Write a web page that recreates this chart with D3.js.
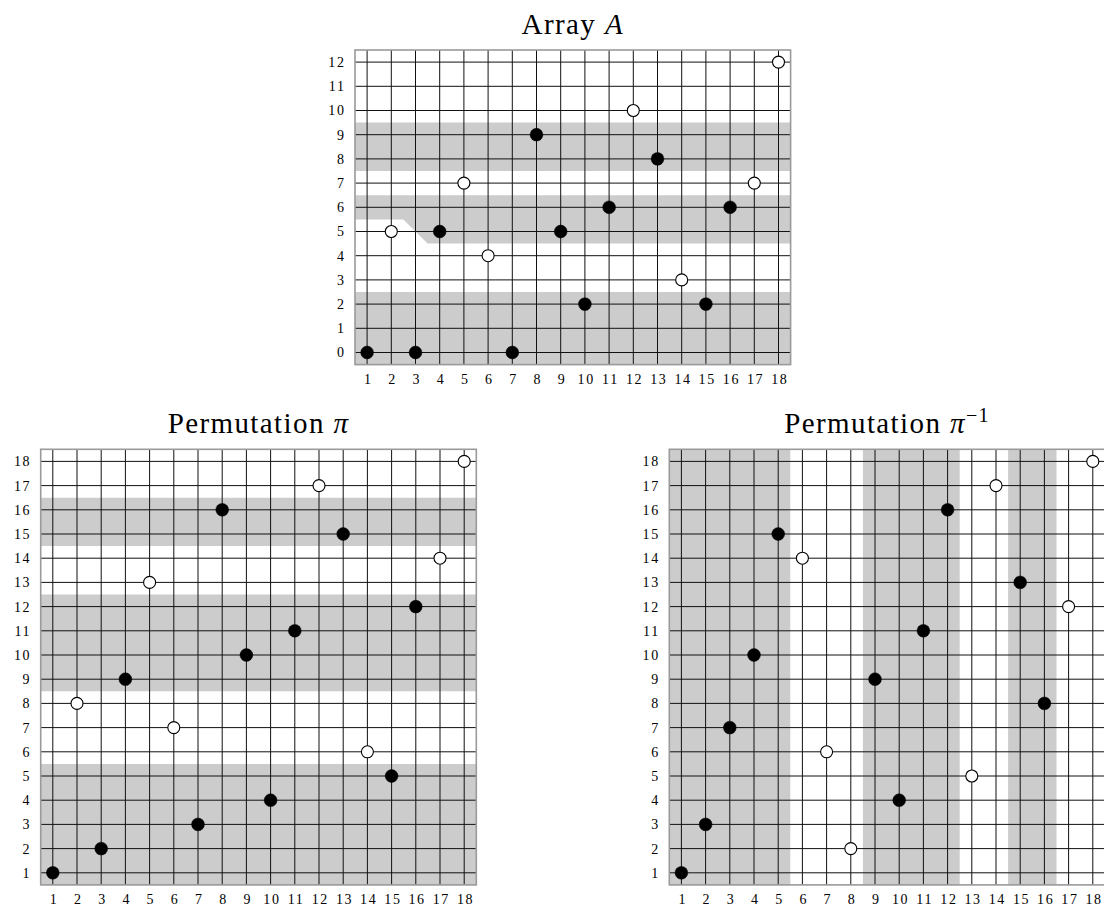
<!DOCTYPE html>
<html>
<head>
<meta charset="utf-8">
<script src="https://cdn.jsdelivr.net/npm/d3@7"></script>
<style>
  html, body { margin: 0; padding: 0; background: #fff; }
  svg { display: block; }
  .tick text { font-family: "Liberation Serif", serif; font-size: 14px; fill: #000; letter-spacing: 1.6px; }
  .title { font-family: "Liberation Serif", serif; font-size: 29px; fill: #000; letter-spacing: 1.4px; }
</style>
</head>
<body>
<svg id="chart" width="1104" height="908"></svg>
<script>
// ---------------- data ----------------
const positions   = [1,2,3,4,5,6,7,8,9,10,11,12,13,14,15,16,17,18];
const arrayA      = [0,5,0,5,7,4,0,9,5,2,6,10,8,3,2,6,7,12];
const perm        = [1,8,2,9,13,7,3,16,10,4,11,17,15,6,5,12,14,18];
const permInv     = [1,3,7,10,15,14,6,2,9,4,11,16,5,17,13,8,12,18];
const openA       = [2,5,6,12,14,17,18];
const openPerm    = [2,5,6,12,14,17,18];
const openInv     = [6,7,8,13,14,17,18];
const yTicksA     = [0,1,2,3,4,5,6,7,8,9,10,11,12];
const yTicksPerm  = [1,2,3,4,5,6,7,8,9,10,11,12,13,14,15,16,17,18];
// shaded regions (data units)
const bandsA = [
  [[0.5,-0.5],[18.5,-0.5],[18.5,2.5],[0.5,2.5]],
  [[0.5,6.5],[18.5,6.5],[18.5,4.5],[3.5,4.5],[2.5,5.5],[0.5,5.5]],
  [[0.5,7.5],[18.5,7.5],[18.5,9.5],[0.5,9.5]]
];
const bandsPermRows = [[0.5,5.5],[8.5,12.5],[14.5,16.5]];
const bandsInvCols  = [[0.5,5.5],[8.5,12.5],[14.5,16.5]];

// ---------------- layout ----------------
const CELL = 24.2;
const svg = d3.select("#chart");

function panel(opts) {
  const {left, top, xDomain, yDomain, values, open, yTicks, polys, title, sup} = opts;
  const w = (xDomain[1]-xDomain[0]) * CELL;
  const h = (yDomain[1]-yDomain[0]) * CELL;
  const x = d3.scaleLinear().domain(xDomain).range([left, left + w]);
  const y = d3.scaleLinear().domain(yDomain).range([top + h, top]);
  const g = svg.append("g");

  // shaded polygons
  const line = d3.line().x(d => x(d[0])).y(d => y(d[1]));
  g.append("g").selectAll("path").data(polys).join("path")
    .attr("d", d => line(d) + "Z")
    .attr("fill", "#cccccc");

  // grid
  g.append("g").selectAll("line").data(positions).join("line")
    .attr("x1", d => x(d)).attr("x2", d => x(d))
    .attr("y1", y(yDomain[0])).attr("y2", y(yDomain[1]))
    .attr("stroke", "#111").attr("stroke-width", 1);
  g.append("g").selectAll("line").data(yTicks).join("line")
    .attr("y1", d => y(d)).attr("y2", d => y(d))
    .attr("x1", x(xDomain[0])).attr("x2", x(xDomain[1]))
    .attr("stroke", "#111").attr("stroke-width", 1);

  // frame
  g.append("rect")
    .attr("x", x(xDomain[0])).attr("y", y(yDomain[1]))
    .attr("width", w).attr("height", h)
    .attr("fill", "none").attr("stroke", "#9a9a9a").attr("stroke-width", 1.6);

  // axes (labels only)
  const ax = g.append("g").attr("transform", `translate(0,${y(yDomain[0])})`)
    .call(d3.axisBottom(x).tickValues(positions).tickSize(0).tickPadding(9.5));
  ax.select(".domain").remove();
  ax.selectAll("text").attr("dx", "0.8px");
  const ay = g.append("g").attr("transform", `translate(${x(xDomain[0])},0)`)
    .call(d3.axisLeft(y).tickValues(yTicks).tickSize(0).tickPadding(9.5));
  ay.select(".domain").remove();

  // points
  const pts = positions.map((p, i) => ({p, v: values[i], open: open.includes(p)}));
  g.append("g").selectAll("circle").data(pts).join("circle")
    .attr("cx", d => x(d.p)).attr("cy", d => y(d.v))
    .attr("r", d => d.open ? 6 : 6.4)
    .attr("fill", d => d.open ? "#fff" : "#000")
    .attr("stroke", "#000").attr("stroke-width", d => d.open ? 1.1 : 0.5);

  // title
  const t = svg.append("text").attr("class", "title")
    .attr("x", left + w/2).attr("y", top - 16)
    .attr("text-anchor", "middle");
  t.append("tspan").text(title[0]);
  t.append("tspan").attr("font-style", "italic").text(title[1]);
  if (sup) {
    t.append("tspan").attr("font-size", "20px").attr("dy", "-11").text(sup);
  }
}

panel({
  left: 355, top: 50, xDomain: [0.5, 18.5], yDomain: [-0.5, 12.5],
  values: arrayA, open: openA, yTicks: yTicksA, polys: bandsA,
  title: ["Array ", "A"]
});
panel({
  left: 40.7, top: 449.3, xDomain: [0.5, 18.5], yDomain: [0.5, 18.5],
  values: perm, open: openPerm, yTicks: yTicksPerm,
  polys: bandsPermRows.map(b => [[0.5,b[0]],[18.5,b[0]],[18.5,b[1]],[0.5,b[1]]]),
  title: ["Permutation ", "π"]
});
panel({
  left: 669.3, top: 449.3, xDomain: [0.5, 18.5], yDomain: [0.5, 18.5],
  values: permInv, open: openInv, yTicks: yTicksPerm,
  polys: bandsInvCols.map(b => [[b[0],0.5],[b[1],0.5],[b[1],18.5],[b[0],18.5]]),
  title: ["Permutation ", "π"], sup: "−1"
});
</script>
</body>
</html>
